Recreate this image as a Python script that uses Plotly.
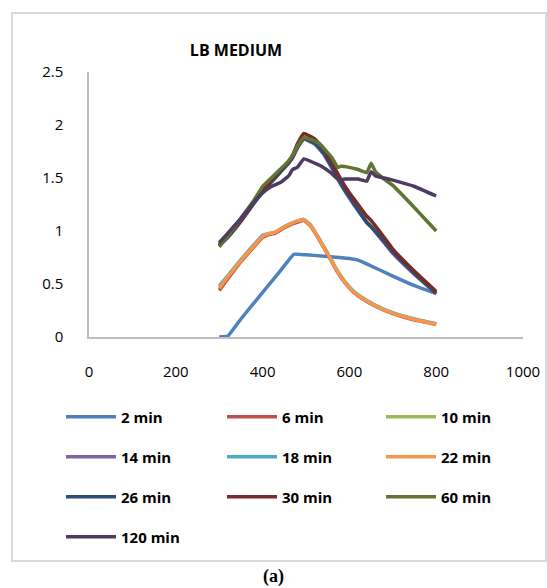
import plotly.graph_objects as go

series_names = ["2 min", "6 min", "10 min", "14 min", "18 min", "22 min",
                "26 min", "30 min", "60 min", "120 min"]
colors = ["#4F81BD", "#C0504D", "#9BBB59", "#8064A2", "#4BACC6", "#F79646",
          "#2C4D75", "#772C2A", "#5F7530", "#4D3B62"]

x_2 = [300, 320, 350, 400, 440, 472, 500, 550, 600, 620, 650, 700, 750, 800]
y_2 = [0.0, 0.01, 0.17, 0.42, 0.62, 0.78, 0.775, 0.76, 0.74, 0.725, 0.67, 0.575, 0.485, 0.41]

x_low = [300, 320, 350, 380, 400, 410, 430, 450, 470, 485, 495, 510, 530, 550, 570, 590, 610, 630, 660, 700, 750, 800]
y_6 = [0.44, 0.55, 0.71, 0.85, 0.94, 0.96, 0.98, 1.03, 1.07, 1.09, 1.10, 1.05, 0.92, 0.78, 0.63, 0.51, 0.42, 0.36, 0.29, 0.22, 0.16, 0.12]
y_18 = [0.48, 0.58, 0.73, 0.87, 0.96, 0.97, 0.99, 1.04, 1.08, 1.10, 1.11, 1.06, 0.93, 0.79, 0.64, 0.52, 0.43, 0.37, 0.30, 0.23, 0.17, 0.125]
y_22 = [0.46, 0.57, 0.72, 0.86, 0.95, 0.97, 0.99, 1.04, 1.08, 1.10, 1.105, 1.055, 0.925, 0.785, 0.635, 0.515, 0.425, 0.365, 0.295, 0.225, 0.165, 0.12]

x_high = [300, 320, 350, 380, 400, 420, 440, 460, 470, 480, 495, 520, 540, 560, 580, 600, 620, 640, 650, 680, 700, 750, 800]
y_10 = [0.86, 0.95, 1.10, 1.27, 1.39, 1.48, 1.57, 1.65, 1.71, 1.79, 1.88, 1.83, 1.74, 1.60, 1.45, 1.32, 1.20, 1.09, 1.05, 0.90, 0.80, 0.60, 0.41]
y_14 = [0.87, 0.96, 1.10, 1.27, 1.38, 1.47, 1.56, 1.64, 1.70, 1.78, 1.87, 1.82, 1.73, 1.59, 1.44, 1.31, 1.19, 1.08, 1.04, 0.89, 0.79, 0.59, 0.41]
y_26 = [0.86, 0.94, 1.09, 1.26, 1.37, 1.46, 1.55, 1.64, 1.70, 1.79, 1.87, 1.83, 1.74, 1.60, 1.45, 1.32, 1.20, 1.08, 1.04, 0.90, 0.80, 0.60, 0.41]
y_30 = [0.87, 0.95, 1.10, 1.27, 1.38, 1.48, 1.57, 1.66, 1.72, 1.82, 1.92, 1.87, 1.78, 1.64, 1.49, 1.36, 1.25, 1.14, 1.10, 0.94, 0.83, 0.62, 0.43]

x_60 = [300, 320, 350, 380, 400, 420, 440, 460, 470, 480, 495, 520, 534, 560, 573, 580, 600, 620, 640, 650, 660, 680, 700, 750, 800]
y_60 = [0.85, 0.95, 1.12, 1.29, 1.42, 1.50, 1.58, 1.66, 1.72, 1.80, 1.88, 1.85, 1.81, 1.69, 1.60, 1.61, 1.60, 1.58, 1.55, 1.64, 1.56, 1.49, 1.43, 1.22, 1.00]

x_120 = [300, 320, 350, 380, 400, 420, 442, 460, 469, 480, 495, 520, 540, 557, 576, 590, 620, 640, 650, 660, 680, 700, 750, 800]
y_120 = [0.89, 0.98, 1.12, 1.27, 1.36, 1.42, 1.46, 1.52, 1.58, 1.60, 1.68, 1.64, 1.60, 1.55, 1.48, 1.49, 1.49, 1.47, 1.56, 1.52, 1.50, 1.48, 1.42, 1.33]

x_series = [x_2, x_low, x_high, x_high, x_low, x_low, x_high, x_high, x_60, x_120]
y_series = [y_2, y_6, y_10, y_14, y_18, y_22, y_26, y_30, y_60, y_120]

x_ticks = [0, 200, 400, 600, 800, 1000]
y_ticks = [0, 0.5, 1, 1.5, 2, 2.5]

FONT = "Open Sans"
W, H = 547, 588
ML, MR, MT, MB = 89, 24, 72, 251
pw = W - ML - MR
ph = H - MT - MB

def px_to_paper_x(px):
    return (px - ML) / pw

def py_to_paper_y(py):
    return (H - MB - py) / ph

# legend grid (3 columns, 40 px rows)
col_px = [61, 222, 381]
row_py = [417, 457, 497, 537]

fig = go.Figure()
layout_legends = {}
for i, (name, col, xs, ys) in enumerate(zip(series_names, colors, x_series, y_series)):
    lid = "legend" if i == 0 else f"legend{i + 1}"
    fig.add_trace(go.Scatter(
        x=xs, y=ys, mode="lines", name=name,
        line=dict(color=col, width=3.5, shape="spline", smoothing=0.3),
        legend=lid,
    ))
    layout_legends[lid] = dict(
        orientation="h", xanchor="left", yanchor="middle",
        x=px_to_paper_x(col_px[i % 3]), y=py_to_paper_y(row_py[i // 3]),
        itemwidth=50,
        font=dict(family=FONT, size=15, color="#000000", weight="bold"),
        bgcolor="rgba(0,0,0,0)",
    )

fig.update_layout(
    width=W, height=H,
    margin=dict(l=ML, r=MR, t=MT, b=MB, autoexpand=False),
    paper_bgcolor="white", plot_bgcolor="white",
    showlegend=True,
    title=dict(text="<b>LB MEDIUM</b>", x=236 / W, xanchor="center",
               y=1 - 50 / H, yanchor="middle",
               font=dict(family=FONT, size=16, color="#000000")),
    xaxis=dict(range=[0, 1000], tickvals=x_ticks, showgrid=False, zeroline=False,
               showline=True, linecolor="#BFBFBF", linewidth=1.5, ticks="",
               ticklabelstandoff=20,
               tickfont=dict(family=FONT, size=15, color="#000000")),
    yaxis=dict(range=[0, 2.5], tickvals=y_ticks, showgrid=False, zeroline=False,
               showline=True, linecolor="#BFBFBF", linewidth=1.5, ticks="",
               ticklabelstandoff=21,
               tickfont=dict(family=FONT, size=15, color="#000000")),
    **layout_legends,
)

# outer chart border
fig.add_shape(type="rect", xref="paper", yref="paper",
              x0=px_to_paper_x(12), x1=px_to_paper_x(546),
              y0=py_to_paper_y(561), y1=py_to_paper_y(13),
              line=dict(color="#D9D9D9", width=2), fillcolor="rgba(0,0,0,0)", layer="below")

fig.add_annotation(text="<b>(a)</b>", xref="paper", yref="paper",
                   x=px_to_paper_x(273), y=py_to_paper_y(576),
                   xanchor="center", yanchor="middle", showarrow=False,
                   font=dict(family="Liberation Serif", size=18, color="#000000"))

fig.write_html("out.html", config={"displayModeBar": False},
               post_script="document.body.style.margin='0';")
